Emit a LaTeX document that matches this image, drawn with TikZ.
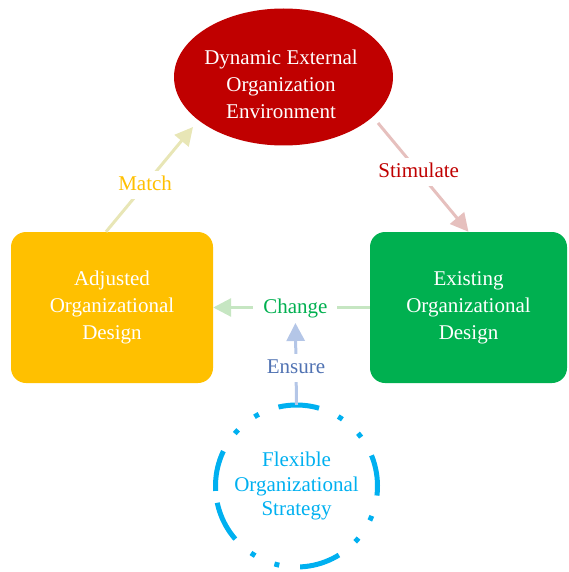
\documentclass[tikz,border=0pt]{standalone}
\usepackage{fontspec}
\setmainfont{Liberation Serif}
\usetikzlibrary{shapes.geometric,arrows.meta}

\definecolor{envred}{HTML}{C00000}
\definecolor{adjyellow}{HTML}{FFC000}
\definecolor{existgreen}{HTML}{00B050}
\definecolor{stratblue}{HTML}{00B0F0}
\definecolor{matchline}{HTML}{E8E6B6}
\definecolor{stimline}{HTML}{E6C0BE}
\definecolor{changeline}{HTML}{C6E6C2}
\definecolor{ensureline}{HTML}{B4C6E7}
\definecolor{ensuretext}{HTML}{5173B3}

\begin{document}
\begin{tikzpicture}[x=1pt, y=-1pt,
  txt/.style={font=\fontsize{21}{27}\selectfont, align=center},
  boxnode/.style={txt, rectangle, rounded corners=15pt, inner sep=0pt,
    minimum height=151pt, text=white},
  lbl/.style={fill=white, font=\fontsize{21}{27}\selectfont,
    text height=14pt, text depth=2pt, inner xsep=10pt, inner ysep=6pt},
  link/.style={line width=3pt, -{Triangle[width=18pt,length=18pt]}},
  stratline/.style={stratblue, line width=5pt, line cap=butt,
    dash pattern=on 41pt off 21pt on 5pt off 21pt on 5pt off 21pt},
]
\useasboundingbox (0,0) rectangle (568,572);

% environment ellipse and its caption
\node[ellipse, fill=envred, minimum width=219pt, minimum height=137pt,
  inner sep=0pt] (env) at (283.5,77) {};
\node[txt, text=white] (envtext) at (281,84)
  {Dynamic External\\Organization\\Environment};

% the two design boxes
\node[boxnode, fill=adjyellow, minimum width=202pt] (adj) at (112,307.5)
  {Adjusted\\Organizational\\Design};
\node[boxnode, fill=existgreen, minimum width=197pt] (exist) at (468.5,307.5)
  {Existing\\Organizational\\Design};

% strategy circle, outlined by a dash-dot-dot ring
\node[circle, minimum size=162pt, inner sep=0pt, txt, text=stratblue,
  font=\fontsize{21}{24.5}\selectfont] (strat) at (296.5,486)
  {Flexible\\Organizational\\Strategy};
\draw[stratline] (strat.center) ++(-183.5:81)
  arc[start angle=-183.5, end angle=176.5, radius=81];

% connectors
\draw[link, matchline] ([xshift=-6pt]adj.north) --
  node[lbl, pos=0.45, text=adjyellow] (matchlbl) {Match}
  ([shift={(-90.5,50)}]env.center);
\draw[link, stimline] ([shift={(94.5,46)}]env.center) --
  node[lbl, pos=0.45, text=envred] (stimlbl) {Stimulate}
  (exist.north);
\draw[link, changeline] (exist.west) --
  node[lbl, pos=0.475, text=existgreen] (chg) {Change}
  (adj.east);
\draw[link, ensureline] (strat.north) --
  node[lbl, pos=0.45, text=ensuretext] (ens) {Ensure}
  (chg.south);
\end{tikzpicture}
\end{document}
